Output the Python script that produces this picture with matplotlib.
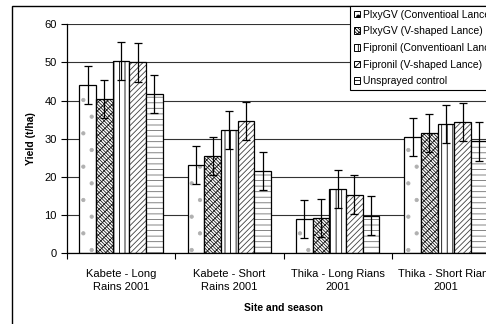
import matplotlib
matplotlib.use('Agg')
import matplotlib.pyplot as plt
from matplotlib.patches import Rectangle
import numpy as np

plt.rcParams['font.family'] = ['Liberation Sans', 'DejaVu Sans']
plt.rcParams['hatch.linewidth'] = 0.6

# Yield per site/season and treatment
sites = ['Kabete - Long\nRains 2001', 'Kabete - Short\nRains 2001',
         'Thika - Long Rians\n2001', 'Thika - Short Rians\n2001']
treatments = ['PlxyGV (Conventioal Lance)', 'PlxyGV (V-shaped Lance)',
              'Fipronil (Conventioanl Lance)', 'Fipronil (V-shaped Lance)',
              'Unsprayed control']
plxy_conv = [44.2, 23.1, 9.0, 30.5]
plxy_v = [40.5, 25.5, 9.2, 31.6]
fip_conv = [50.4, 32.2, 16.8, 33.8]
fip_v = [50.0, 34.6, 15.4, 34.3]
control = [41.7, 21.6, 9.9, 29.3]
err = 5.0

series = [plxy_conv, plxy_v, fip_conv, fip_v, control]
hatches = ['.', '\\\\\\\\\\\\xxxx', '|||', '//////', '---']
hatch_colors = ['#b0b0b0', '#202020', 'black', '#404040', '#707070']

fig = plt.figure(figsize=(4.86, 3.24), dpi=100)

# chart border
fig.patches.append(Rectangle((12 / 486, -0.1), 1.2, 1 - 6 / 324 + 0.1,
                             transform=fig.transFigure, fill=False,
                             edgecolor='black', linewidth=1.0))

ax = fig.add_axes([67 / 486, 70.7 / 324, 433 / 486, 229 / 324])

n = len(series)
w = 1 / (n + 1.5)
x = np.arange(len(sites))
for i, vals in enumerate(series):
    pos = x + 0.75 * w + (i + 0.5) * w
    # fill pattern first, then the black outline on top
    ax.bar(pos, vals, width=w, color='white', edgecolor=hatch_colors[i],
           linewidth=0, hatch=hatches[i], zorder=2)
    ax.bar(pos, vals, width=w, fill=False, edgecolor='black',
           linewidth=0.9, zorder=2)
    ax.errorbar(pos, vals, yerr=err, fmt='none', ecolor='black',
                elinewidth=0.9, capsize=3, capthick=0.9, zorder=3)

ax.set_xlim(0, 4)
ax.set_ylim(0, 60)
ax.set_yticks(range(0, 61, 10))
ax.yaxis.grid(True, color='#333333', linewidth=0.8, zorder=0)
ax.set_axisbelow(True)

ax.set_xticks(range(0, 5))
ax.set_xticklabels([])
ax.set_xticks(x + 0.5, minor=True)
ax.set_xticklabels(sites, minor=True, linespacing=1.45)
ax.tick_params(axis='x', which='major', direction='out', length=4, width=0.8)
ax.tick_params(axis='x', which='minor', length=0, pad=11, labelsize=8)
ax.tick_params(axis='y', direction='out', length=4, width=0.8, labelsize=8)

for s in ['top', 'right']:
    ax.spines[s].set_visible(False)
for s in ['left', 'bottom']:
    ax.spines[s].set_linewidth(0.9)

ax.set_ylabel('Yield (t/ha)', fontsize=7.5, fontweight='bold', labelpad=6)
ax.set_xlabel('Site and season', fontsize=7.5, fontweight='bold', labelpad=8)

# legend swatches
handles = [Rectangle((0, 0), 1, 1, facecolor='white', edgecolor='black',
                     linewidth=0.7, hatch=h) for h in hatches]
leg = fig.legend(handles, treatments, loc='upper left',
                 bbox_to_anchor=(350 / 486, 1 - 6 / 324),
                 fontsize=7.5, frameon=True, fancybox=False, framealpha=1,
                 edgecolor='black', handlelength=0.6, handleheight=0.6,
                 handletextpad=0.25, labelspacing=0.64, borderpad=0.35,
                 borderaxespad=0)
leg.get_frame().set_linewidth(0.8)

fig.savefig('out.png', dpi=100)
